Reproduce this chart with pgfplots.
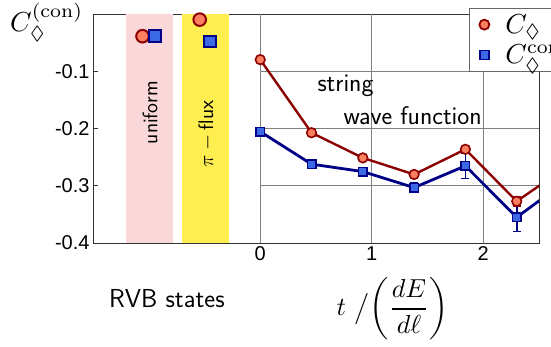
\documentclass[border=0pt]{standalone}
\usepackage{fontspec}
\usepackage{amssymb}
\usepackage{graphicx}
\usepackage{pgfplots}
\pgfplotsset{compat=1.18}
\newfontfamily\helv{Liberation Sans}
\definecolor{rfill}{RGB}{250,128,95}
\definecolor{redge}{RGB}{140,0,0}
\definecolor{bfill}{RGB}{60,105,230}
\definecolor{bedge}{RGB}{0,0,135}
\definecolor{pinkband}{RGB}{250,215,216}
\definecolor{yelband}{RGB}{255,238,80}
\begin{document}
\begin{tikzpicture}[x=1pt,y=1pt]
\begin{axis}[at={(93pt,104pt)}, anchor=south west, scale only axis,
 width=446pt, height=228.5pt,
 xmin=-1.5, xmax=2.5, ymin=-0.4, ymax=0,
 xtick={0,1,2}, xticklabels={0,1,2},
 ytick={-0.4,-0.3,-0.2,-0.1}, yticklabels={-0.4,-0.3,-0.2,-0.1},
 ticklabel style={font=\fontsize{20}{24}\selectfont\helv},
 axis line style={black!80, line width=0.9pt},
 major tick length=5pt, tick style={black!80, line width=0.8pt},
 legend style={at={(0.843,1.028)}, anchor=north west, draw=black!60, line width=0.8pt,
   fill=white, font=\fontsize{10}{12}\selectfont, row sep=6pt, inner xsep=10pt, inner ysep=4pt,
   /tikz/column 1/.style={column sep=14pt}},
 legend cell align=left,
]
\fill[pinkband] (axis cs:-1.2,-0.4) rectangle (axis cs:-0.78,0);
\fill[yelband] (axis cs:-0.7,-0.4) rectangle (axis cs:-0.28,0);
\draw[black!50, line width=0.8pt] (axis cs:0,-0.4) -- (axis cs:0,0);
\draw[black!50, line width=0.8pt] (axis cs:1,-0.4) -- (axis cs:1,0);
\draw[black!50, line width=0.8pt] (axis cs:2,-0.4) -- (axis cs:2,0);
\draw[black!50, line width=0.8pt] (axis cs:0,-0.1) -- (axis cs:2.5,-0.1);
\draw[black!50, line width=0.8pt] (axis cs:0,-0.2) -- (axis cs:2.5,-0.2);
\draw[black!50, line width=0.8pt] (axis cs:0,-0.3) -- (axis cs:2.5,-0.3);

\addlegendimage{only marks, mark=*, mark size=5pt, mark options={fill=rfill, draw=redge, line width=1.8pt}}
\addlegendentry{\scalebox{2.75}{$C_\Diamond$}}
\addlegendimage{only marks, mark=square*, mark size=4.5pt, mark options={fill=bfill, draw=bedge, line width=1.8pt}}
\addlegendentry{\scalebox{2.75}{$C_\Diamond^{\mathrm{con}}$}}

% string wave function series
\addplot[forget plot, redge, line width=2.4pt, mark=*, mark size=4.8pt,
  mark options={fill=rfill, draw=redge, line width=1.6pt},
  error bars/.cd, y dir=both, y explicit, error bar style={redge, line width=1.5pt},
  error mark options={rotate=90, mark size=4pt, redge, line width=1.5pt}]
coordinates {
(0,-0.079) +- (0,0)
(0.46,-0.207) +- (0,0)
(0.92,-0.251) +- (0,0)
(1.38,-0.280) +- (0,0)
(1.84,-0.236) +- (0,0)
(2.30,-0.327) +- (0,0.008)
(2.76,-0.265) +- (0,0)
};
\addplot[forget plot, bedge, line width=2.8pt, mark=square*, mark size=4.2pt,
  mark options={fill=bfill, draw=bedge, line width=1.6pt},
  error bars/.cd, y dir=both, y explicit, error bar style={bedge, line width=1.6pt},
  error mark options={rotate=90, mark size=4pt, bedge, line width=1.6pt}]
coordinates {
(0,-0.205) +- (0,0.005)
(0.46,-0.262) +- (0,0.004)
(0.92,-0.275) +- (0,0.004)
(1.38,-0.303) +- (0,0.008)
(1.84,-0.265) +- (0,0.022)
(2.30,-0.355) +- (0,0.025)
(2.76,-0.289) +- (0,0.01)
};
% RVB states
\addplot[forget plot, only marks, mark=*, mark size=6.3pt,
  mark options={fill=rfill, draw=redge, line width=2pt}]
coordinates {(-1.056,-0.038) (-0.543,-0.009)};
\addplot[forget plot, only marks, mark=square*, mark size=5.8pt,
  mark options={fill=bfill, draw=bedge, line width=2pt}]
coordinates {(-0.943,-0.038) (-0.45,-0.047)};
\end{axis}
\node[anchor=base west, inner sep=0] at (10,315.3) {\scalebox{2.75}{$C_\Diamond^{(\mathrm{con})}$}};
\node[anchor=base west, inner sep=0, font=\sffamily\fontsize{26}{28}\selectfont] at (109,39) {RVB states};
\node[inner sep=0] at (392.5,38) {\scalebox{2.6}{$t\ \big/\!\left(\displaystyle\frac{dE}{d\ell}\right)$}};
\node[anchor=base west, inner sep=0, font=\sffamily\fontsize{25.5}{28}\selectfont] at (317.3,255.3) {string};
\node[anchor=base west, inner sep=0, font=\sffamily\fontsize{25.5}{28}\selectfont] at (343.3,222.7) {wave function};
\node[rotate=90, inner sep=0, font=\sffamily\fontsize{21}{24}\selectfont] at (150,234.3) {uniform};
\node[rotate=90, inner sep=0, font=\sffamily\fontsize{21}{24}\selectfont] at (206.7,213) {$\pi-{}$flux};
\pgfresetboundingbox
\path[use as bounding box] (0,0) rectangle (551,347);
\end{tikzpicture}
\end{document}
